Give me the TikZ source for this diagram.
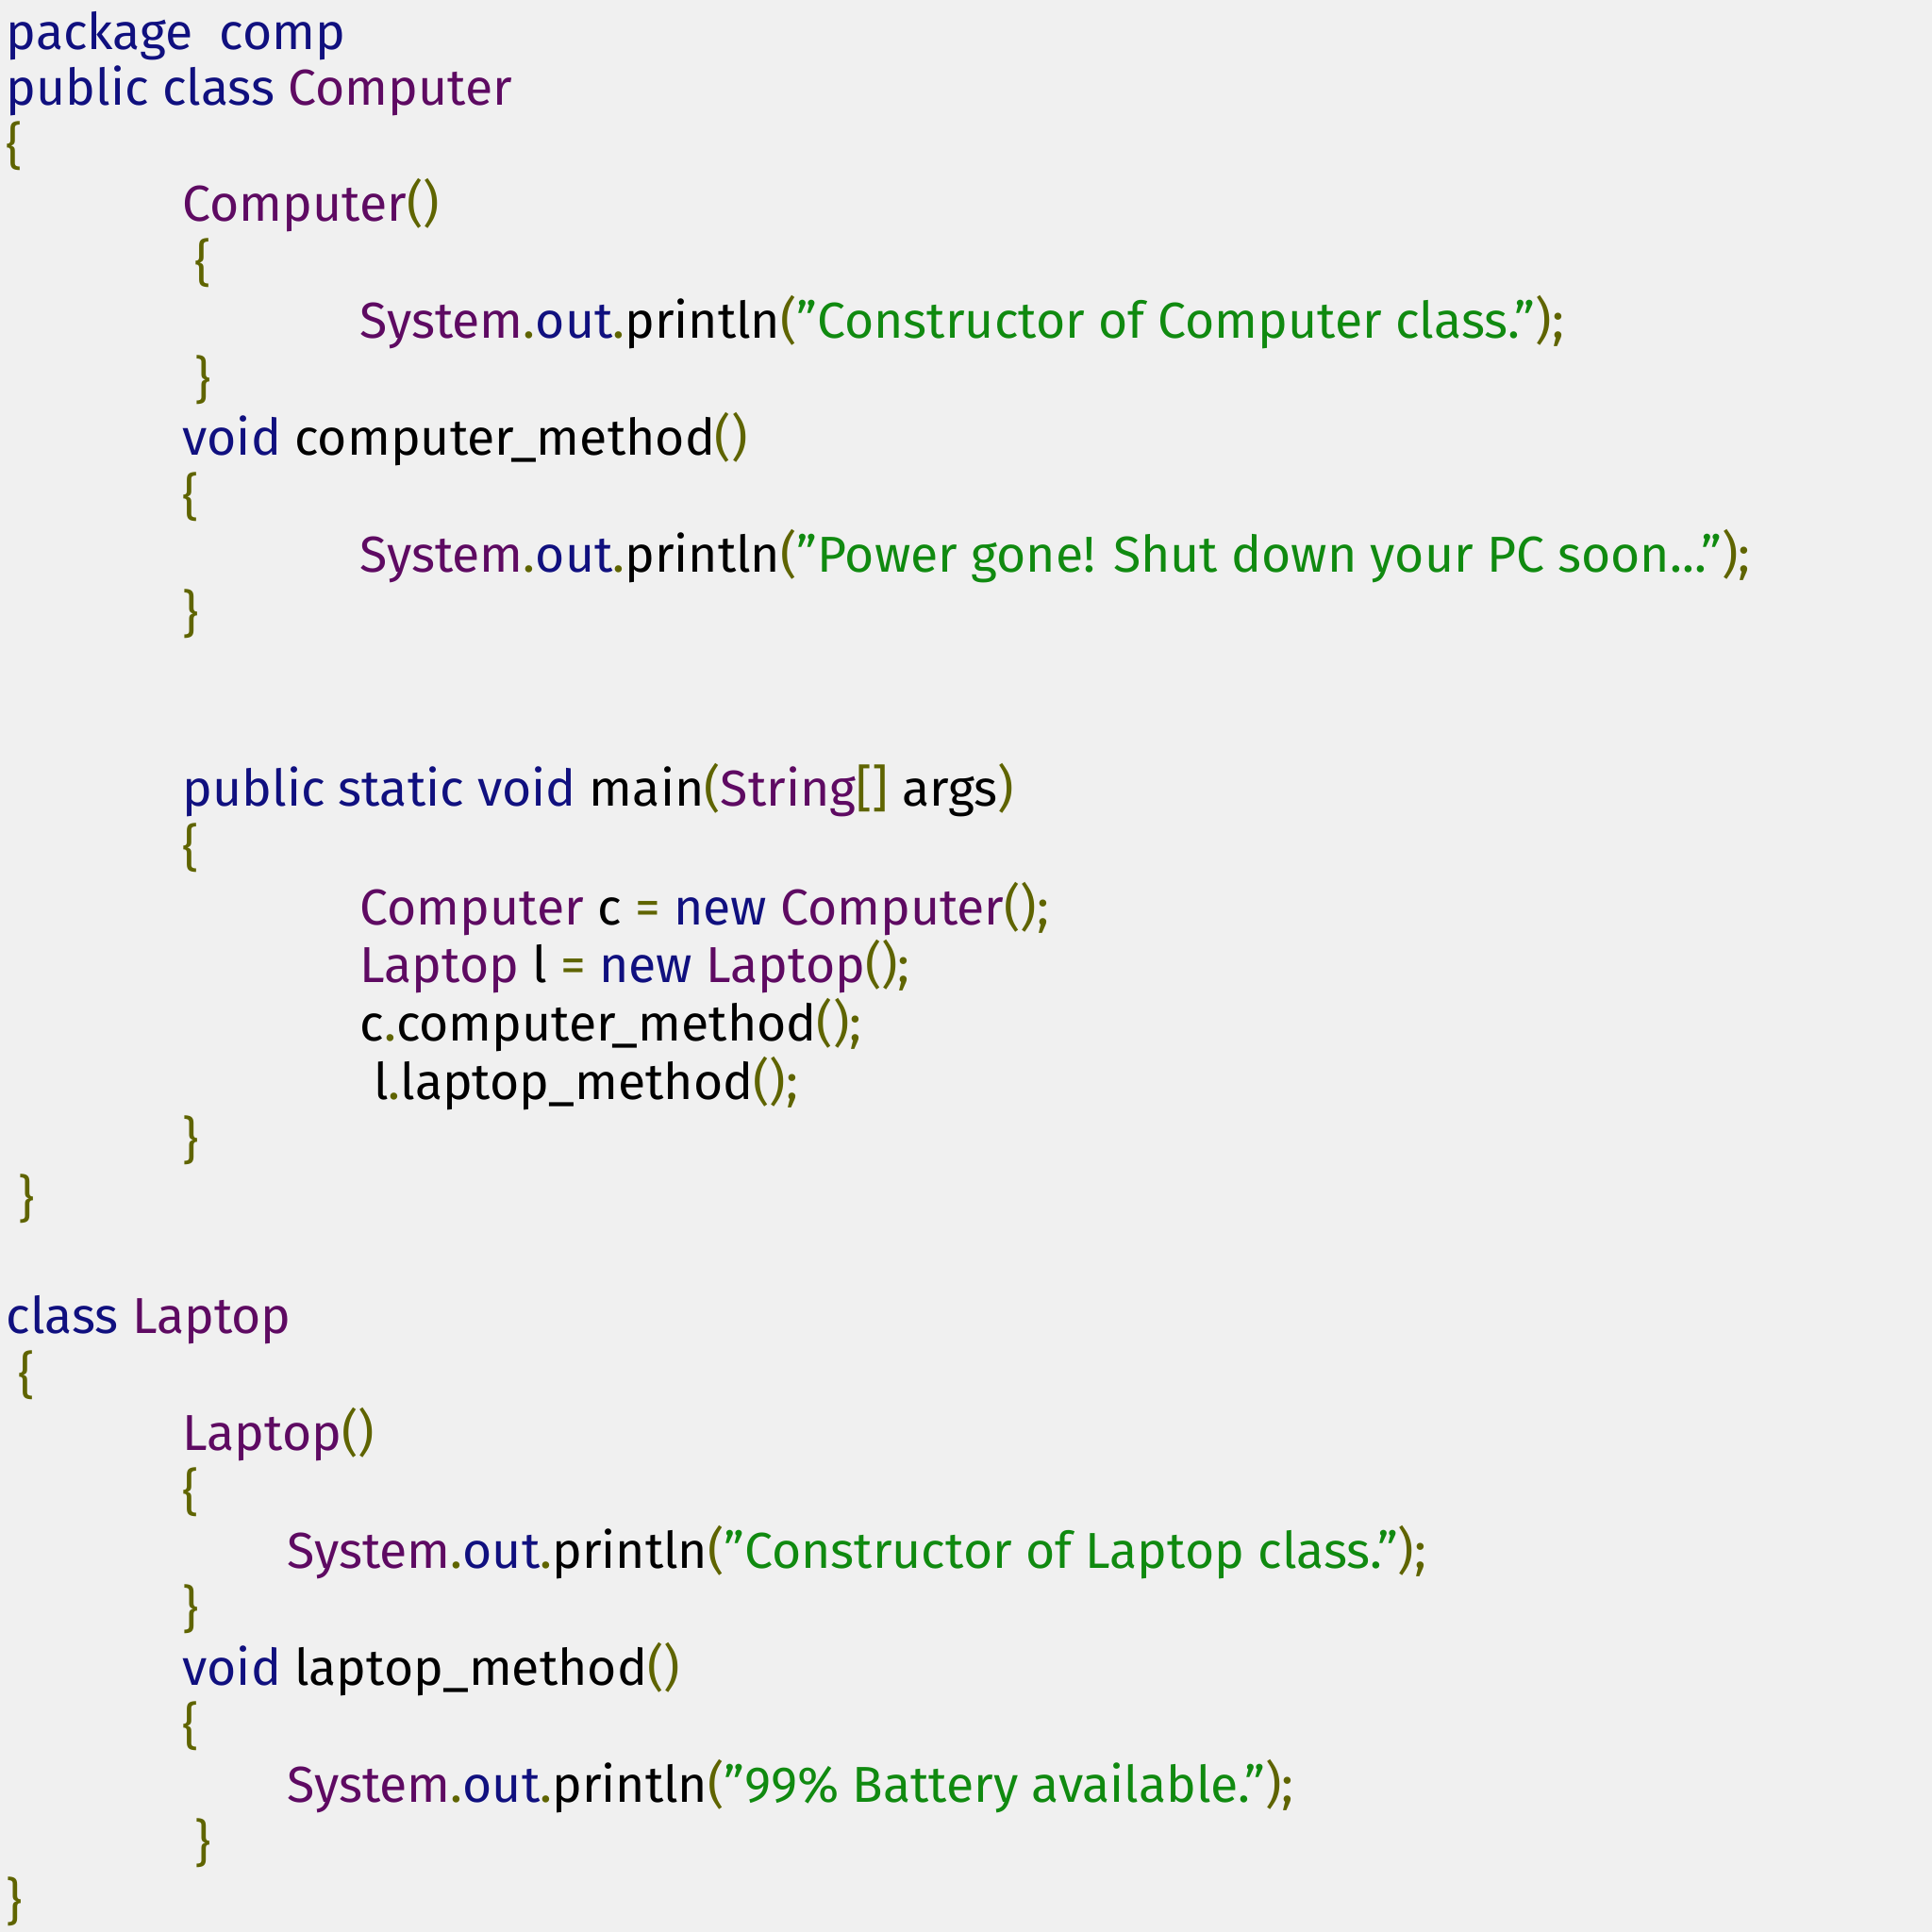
\documentclass[tikz,border=0pt]{standalone}
\usepackage{fontspec}
\setmainfont[Ligatures=NoCommon]{Fira Sans}
\definecolor{kw}{HTML}{10107F}
\definecolor{cl}{HTML}{5E0A62}
\definecolor{pu}{HTML}{5F6400}
\definecolor{st}{HTML}{108A10}
\definecolor{bg}{HTML}{F0F0F0}
\newcommand{\qK}[1]{\textcolor{kw}{#1}}
\newcommand{\qC}[1]{\textcolor{cl}{#1}}
\newcommand{\qP}[1]{\textcolor{pu}{#1}}
\newcommand{\qS}[1]{\textcolor{st}{#1}}
\newcommand{\qq}{\char34\relax}
\newcommand{\SOP}{\qC{System}\qP{.}\qK{out}\qP{.}println}
\tikzset{ln/.style={anchor=west,inner sep=0pt,text height=0.75em,text depth=0.25em,font=\fontsize{41}{48}\selectfont}}
\begin{document}
\begin{tikzpicture}[x=1pt,y=-1pt]
\fill[bg] (0,0) rectangle (1568,1568);
\useasboundingbox (0,0) rectangle (1568,1568);
\begin{scope}[yshift=-10pt]
\node[ln] (l1) at (5,28) {\qK{package\ \ comp}};
\node[ln] (l2) at (5,73) {\qK{public class} \qC{Computer}};
\node[ln] (l3) at (5,120) {\qP{\{}};
\node[ln] (l4) at (148,167) {\qC{Computer}\qP{()}};
\node[ln] (l5) at (158,215) {\qP{\{}};
\node[ln] (l6) at (292,262) {\SOP\qP{(}\qS{\qq Constructor of Computer class.\qq}\qP{);}};
\node[ln] (l7) at (158,310) {\qP{\}}};
\node[ln] (l8) at (148,357) {\qK{void} computer\_method\qP{()}};
\node[ln] (l9) at (148,405) {\qP{\{}};
\node[ln] (l10) at (292,452) {\SOP\qP{(}\qS{\qq Power gone! Shut down your PC soon...\qq}\qP{);}};
\node[ln] (l11) at (148,500) {\qP{\}}};
\node[ln] (l12) at (148,642) {\qK{public static void} main\qP{(}\qC{String}\qP{[]} args\qP{)}};
\node[ln] (l13) at (148,690) {\qP{\{}};
\node[ln] (l14) at (292,738) {\qC{Computer} c \qP{=} \qK{new} \qC{Computer}\qP{();}};
\node[ln] (l15) at (292,785) {\qC{Laptop} l \qP{=} \qK{new} \qC{Laptop}\qP{();}};
\node[ln] (l16) at (292,832) {c\qP{.}computer\_method\qP{();}};
\node[ln] (l17) at (303,880) {l\qP{.}laptop\_method\qP{();}};
\node[ln] (l18) at (148,927) {\qP{\}}};
\node[ln] (l19) at (15,975) {\qP{\}}};
\node[ln] (l20) at (5,1070) {\qK{class} \qC{Laptop}};
\node[ln] (l21) at (15,1118) {\qP{\{}};
\node[ln] (l22) at (148,1165) {\qC{Laptop}\qP{()}};
\node[ln] (l23) at (148,1213) {\qP{\{}};
\node[ln] (l24) at (233,1260) {\SOP\qP{(}\qS{\qq Constructor of Laptop class.\qq}\qP{);}};
\node[ln] (l25) at (148,1308) {\qP{\}}};
\node[ln] (l26) at (148,1355) {\qK{void} laptop\_method\qP{()}};
\node[ln] (l27) at (148,1403) {\qP{\{}};
\node[ln] (l28) at (233,1450) {\SOP\qP{(}\qS{\qq 99\% Battery available.\qq}\qP{);}};
\node[ln] (l29) at (158,1498) {\qP{\}}};
\node[ln] (l30) at (5,1545) {\qP{\}}};
\end{scope}
\end{tikzpicture}
\end{document}
